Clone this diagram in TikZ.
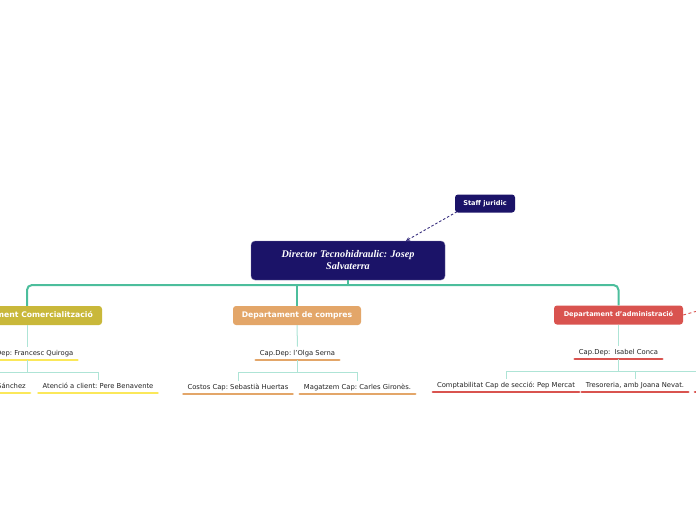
\documentclass[tikz,border=0pt]{standalone}
\usepackage{fontspec}
\setmainfont{DejaVu Sans}
\newfontfamily\rootfont{Liberation Serif}
\usetikzlibrary{arrows.meta}
\definecolor{navy}{HTML}{1B1368}
\definecolor{navyline}{HTML}{3A3180}
\definecolor{teal1}{HTML}{4CBE9C}
\definecolor{teal2}{HTML}{AEE4D6}
\definecolor{olive}{HTML}{C9B83A}
\definecolor{tan}{HTML}{E3A669}
\definecolor{redd}{HTML}{D9534F}
\definecolor{yel}{HTML}{FBE85A}
\definecolor{txt}{HTML}{222222}
\tikzset{
  dept/.style={rounded corners=3pt, text=white, minimum height=19pt, inner xsep=6pt, inner ysep=0pt, font=\frenchspacing\bfseries\fontsize{7.7}{9}\selectfont},
  subn/.style={inner xsep=4pt, inner ysep=3pt, text height=5.5pt, text depth=1.5pt, text=txt, font=\frenchspacing\fontsize{6.8}{8.5}\selectfont},
  mainline/.style={draw=teal1, line width=2pt},
  thinline/.style={draw=teal2, line width=1pt},
  ul/.style={line width=2.7pt, line cap=round},
}
\begin{document}
\begin{tikzpicture}[x=1pt,y=-1pt]
\clip (0,0) rectangle (696,520);
\useasboundingbox (0,0) rectangle (696,520);
% root and staff
\node[fill=navy, draw=navy!60!white, rounded corners=4pt, minimum width=194pt, minimum height=39pt, text width=185pt, align=center, text=white, font=\frenchspacing\rootfont\bfseries\itshape\fontsize{10.2}{12}\selectfont] (root) at (348,260.5) {Director Tecnohidraulic: Josep\\ Salvaterra};
\node[fill=navy, rounded corners=3pt, minimum width=60pt, minimum height=18pt, text=white, font=\frenchspacing\bfseries\fontsize{6.6}{8}\selectfont] (staff) at (485,203.5) {Staff juridic};
\draw[navyline, line width=0.9pt, dash pattern=on 2.5pt off 2pt, -{Stealth[length=4pt,width=4pt]}] ([xshift=-28pt,yshift=1pt]staff.south) -- ([xshift=58pt]root.north);
% departments
\node[dept, fill=olive, minimum width=150pt] (comm) at (27,315.5) {Departament Comercialització};
\node[dept, fill=tan, minimum width=128pt] (comp) at (297,315.5) {Departament de compres};
\node[dept, fill=redd, minimum width=129pt, font=\frenchspacing\bfseries\fontsize{6.6}{8}\selectfont] (adm) at (618.5,315) {Departament d'administració};
\coordinate (bar) at (348,285);
\draw[mainline] (root.south) -- (bar);
\draw[mainline, rounded corners=5pt] (comm.north) |- (bar) -| (adm.north);
\draw[mainline] (comp.north) -- (comp.north |- bar);
\coordinate (far) at (740,299);
\draw[redd, line width=0.9pt, dash pattern=on 3pt off 2.5pt] (adm.east) -- (far);
% sub heads
\node[subn, anchor=south] (s1) at (27,360) {Cap.Dep: Francesc Quiroga};
\node[subn, anchor=south] (s2) at (297.5,360) {Cap.Dep: l'Olga Serna};
\node[subn, anchor=south] (s3) at (618.5,359) {Cap.Dep:\ \ Isabel Conca};
\draw[ul, yel] (s1.south west) -- (s1.south east);
\draw[ul, tan] (s2.south west) -- (s2.south east);
\draw[ul, redd] (s3.south west) -- (s3.south east);
\draw[thinline] (comm.south) -- (s1.north);
\draw[thinline] (comp.south) -- (s2.north);
\draw[thinline] (adm.south) -- (s3.north);
% children
\node[subn, anchor=south east] (c1) at (30,393) {Sánchez};
\node[subn, anchor=south] (c2) at (98,393) {Atenció a client: Pere Benavente};
\node[subn, anchor=south] (c3) at (238,394) {Costos Cap: Sebastià Huertas};
\node[subn, anchor=south] (c4) at (357.5,394) {Magatzem Cap: Carles Gironès.};
\node[subn, anchor=south] (c5) at (506,392) {Comptabilitat Cap de secció: Pep Mercat};
\node[subn, anchor=south] (c6) at (635,392) {Tresoreria, amb Joana Nevat.};
\coordinate (c1l) at (-40,393);
\coordinate (c1top) at (-5,380);
\coordinate (c7l) at (695,392);
\coordinate (c7top) at (740,379);
\draw[ul, yel] (c1l) -- (c1.south east);
\draw[ul, yel] (c2.south west) -- (c2.south east);
\draw[ul, tan] (c3.south west) -- (c3.south east);
\draw[ul, tan] (c4.south west) -- (c4.south east);
\draw[ul, redd] (c5.south west) -- (c5.south east);
\draw[ul, redd] (c6.south west) -- (c6.south east);
\draw[ul, redd] (c7l) -- ++(40,0);
\draw[thinline] (s1.south) -- ++(0,12) -| (c2.north);
\draw[thinline] (s1.south) -- ++(0,12) -| (c1top);
\draw[thinline] (s2.south) -- ++(0,12) -| (c3.north);
\draw[thinline] (s2.south) -- ++(0,12) -| (c4.north);
\draw[thinline] (s3.south) -- ++(0,12) -| (c5.north);
\draw[thinline] (s3.south) -- ++(0,12) -| (c6.north);
\draw[thinline] (s3.south) -- ++(0,12) -| (c7top);
\end{tikzpicture}
\end{document}
